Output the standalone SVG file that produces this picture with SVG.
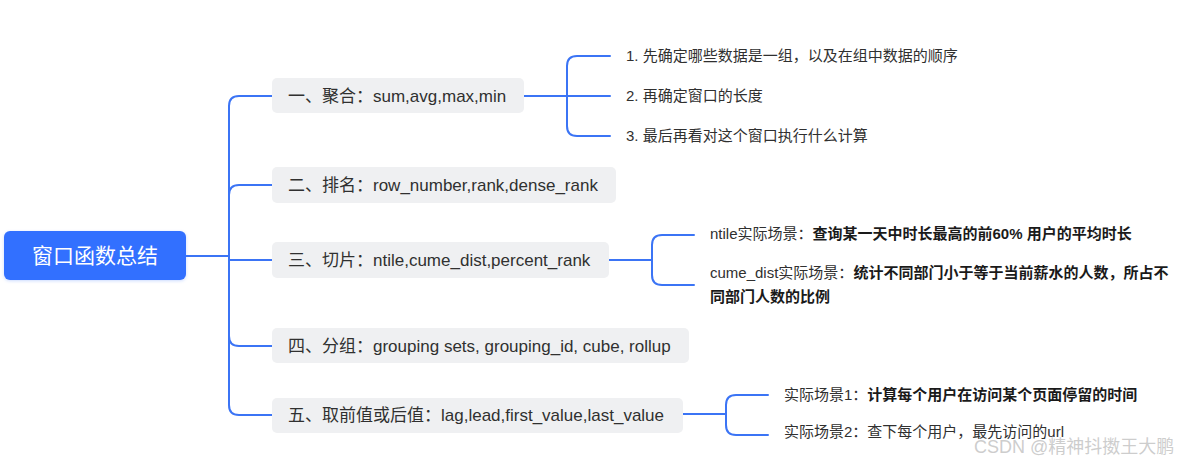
<svg xmlns="http://www.w3.org/2000/svg" width="1184" height="465" viewBox="0 0 1184 465">
<defs>
<filter id="sh" x="-10%" y="-20%" width="120%" height="150%">
<feDropShadow dx="0" dy="1" stdDeviation="1.5" flood-color="#3370ff" flood-opacity="0.25"/>
</filter>
</defs>
<style>
text{font-family:"Liberation Sans","Noto Sans CJK SC",sans-serif;fill:#303030}
.box{fill:#eff0f2}
.n{font-size:17px}
.l{font-size:15px}
.l15{font-size:15px}
.b{font-weight:bold;fill:#1a1a1a}
.c{fill:none;stroke:#3b74f5;stroke-width:2;stroke-linecap:round}
</style>
<rect width="1184" height="465" fill="#ffffff"/>
<g id="connectors">
<path class="c" d="M186 256 H229"/>
<path class="c" d="M229 256 V106 Q229 96 239 96 H272"/>
<path class="c" d="M229 256 V195 Q229 185 239 185 H272"/>
<path class="c" d="M229 256 V260 H272"/>
<path class="c" d="M229 256 V336 Q229 346 239 346 H272"/>
<path class="c" d="M229 256 V405 Q229 415 239 415 H272"/>
<path class="c" d="M524 96 H567"/>
<path class="c" d="M567 96 V66 Q567 56 577 56 H610"/>
<path class="c" d="M567 96 H610"/>
<path class="c" d="M567 96 V126 Q567 136 577 136 H610"/>
<path class="c" d="M609 260 H652"/>
<path class="c" d="M652 260 V245 Q652 235 662 235 H694"/>
<path class="c" d="M652 260 V275 Q652 285 662 285 H694"/>
<path class="c" d="M683 414 H726"/>
<path class="c" d="M726 414 V405 Q726 395 736 395 H768"/>
<path class="c" d="M726 414 V425 Q726 435 736 435 H768"/>
</g>
<g id="root">
<rect x="4" y="231" width="182" height="49" rx="6" fill="#3370ff" filter="url(#sh)"/>
<text x="95" y="263" text-anchor="middle" style="font-size:21px;fill:#ffffff">窗口函数总结</text>
</g>
<g id="n1">
<rect class="box" x="272" y="78" width="252" height="35" rx="5"/>
<text class="n" x="288" y="102">一、聚合：sum,avg,max,min</text>
</g>
<g id="n1a"><text class="l" x="626" y="61">1. 先确定哪些数据是一组，以及在组中数据的顺序</text></g>
<g id="n1b"><text class="l" x="626" y="101">2. 再确定窗口的长度</text></g>
<g id="n1c"><text class="l" x="626" y="141">3. 最后再看对这个窗口执行什么计算</text></g>
<g id="n2">
<rect class="box" x="272" y="167" width="344" height="36" rx="5"/>
<text class="n" x="288" y="191">二、排名：row_number,rank,dense_rank</text>
</g>
<g id="n3">
<rect class="box" x="272" y="242" width="337" height="36" rx="5"/>
<text class="n" x="288" y="266">三、切片：ntile,cume_dist,percent_rank</text>
</g>
<g id="n3a"><text class="l15" x="710" y="239">ntile实际场景：<tspan class="b">查询某一天中时长最高的前60% 用户的平均时长</tspan></text></g>
<g id="n3b">
<text class="l15" x="710" y="278">cume_dist实际场景：<tspan class="b">统计不同部门小于等于当前薪水的人数，所占不</tspan></text>
<text class="l15 b" x="710" y="302">同部门人数的比例</text>
</g>
<g id="n4">
<rect class="box" x="272" y="328" width="417" height="35" rx="5"/>
<text class="n" x="288" y="352">四、分组：grouping sets, grouping_id, cube, rollup</text>
</g>
<g id="n5">
<rect class="box" x="272" y="398" width="411" height="35" rx="5"/>
<text class="n" x="288" y="421">五、取前值或后值：lag,lead,first_value,last_value</text>
</g>
<g id="n5a"><text class="l" x="784" y="400">实际场景1：<tspan class="b">计算每个用户在访问某个页面停留的时间</tspan></text></g>
<g id="n5b"><text class="l" x="784" y="437">实际场景2：查下每个用户，最先访问的url</text></g>
<text x="974" y="453" style="font-size:18px;fill:#c4c4c4;fill-opacity:0.85">CSDN @精神抖擞王大鹏</text>
</svg>
